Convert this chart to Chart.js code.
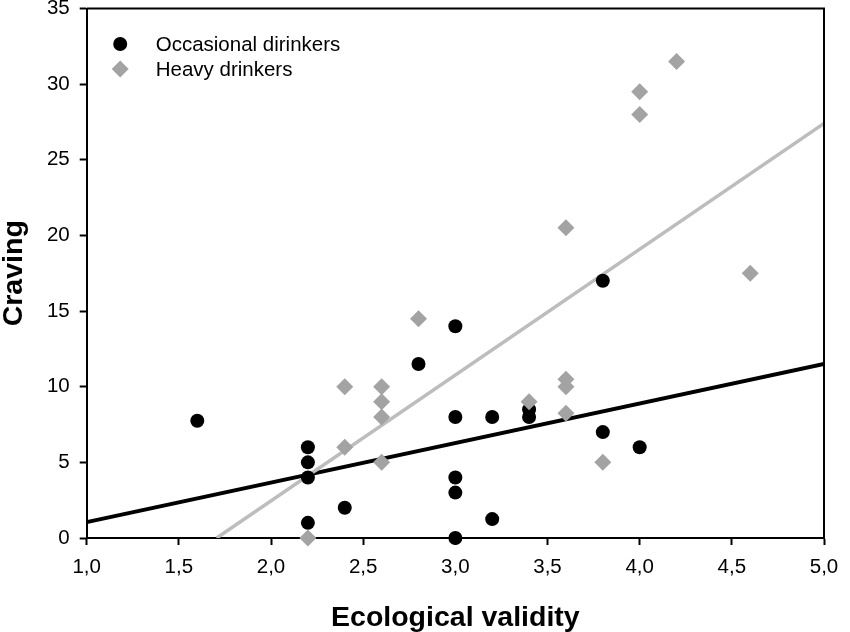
<!DOCTYPE html>
<html>
<head>
<meta charset="utf-8">
<script src="https://cdn.jsdelivr.net/npm/chart.js@4.4.1/dist/chart.umd.min.js"></script>
<style>
  html, body { margin: 0; padding: 0; background: #fff; }
  #wrap { width: 850px; height: 632px; }
</style>
</head>
<body>
<div id="wrap"><canvas id="cravingChart"></canvas></div>
<script>
// values
const occasionalX = [1.6, 2.2, 2.2, 2.2, 2.2, 2.4, 2.8, 3.0, 3.0, 3.0, 3.0, 3.0, 3.2, 3.2, 3.4, 3.4, 3.8, 3.8, 4.0];
const occasionalY = [7.75, 6, 5, 4, 1, 2, 11.5, 14, 8, 4, 3, 0, 8, 1.25, 8.5, 8, 17, 7, 6];
const heavyX = [2.2, 2.4, 2.4, 2.6, 2.6, 2.6, 2.6, 2.8, 3.4, 3.6, 3.6, 3.6, 3.6, 3.8, 4.0, 4.0, 4.2, 4.6];
const heavyY = [0, 10, 6, 10, 9, 8, 5, 14.5, 9, 20.5, 10.5, 10, 8.25, 5, 29.5, 28, 31.5, 17.5];

// fitted lines (end points)
const occasionalFitX = [1.0, 5.0];
const occasionalFitY = [1.05, 11.5];
const heavyFitX = [1.705, 5.0];
const heavyFitY = [0, 27.4];

const xTickLabels = ['1,0', '1,5', '2,0', '2,5', '3,0', '3,5', '4,0', '4,5', '5,0'];
const yTickLabels = ['0', '5', '10', '15', '20', '25', '30', '35'];

const toPoints = (xs, ys) => xs.map((x, i) => ({ x: x, y: ys[i] }));

const FONT = '"Liberation Sans", Arial, sans-serif';
const BLACK = '#000000';
const DIAMOND = '#a3a3a3';
const GREY_LINE = '#bdbdbd';

// legend drawn inside the plot, top left
const insideLegend = {
    id: 'insideLegend',
    afterDatasetsDraw(chart) {
        const ctx = chart.ctx;
        const area = chart.chartArea;
        ctx.save();
        ctx.font = '20.5px ' + FONT;
        ctx.textBaseline = 'middle';
        let row = 0;
        chart.data.datasets.forEach(ds => {
            if (!ds.inLegend) return;
            const cx = area.left + 33.5;
            const cy = area.top + 35.5 + row * 25;
            ctx.fillStyle = ds.backgroundColor;
            ctx.strokeStyle = ds.backgroundColor;
            Chart.helpers.drawPoint(ctx, {
                pointStyle: ds.pointStyle,
                radius: ds.pointRadius,
                borderWidth: 0
            }, cx, cy);
            ctx.fillStyle = BLACK;
            ctx.fillText(ds.label, area.left + 69, cy + 1);
            row++;
        });
        ctx.restore();
    }
};

// top and right sides of the frame
const plotFrame = {
    id: 'plotFrame',
    afterDraw(chart) {
        const ctx = chart.ctx;
        const a = chart.chartArea;
        ctx.save();
        ctx.strokeStyle = BLACK;
        ctx.lineWidth = 2;
        ctx.beginPath();
        ctx.moveTo(a.left, a.top);
        ctx.lineTo(a.right, a.top);
        ctx.lineTo(a.right, a.bottom);
        ctx.stroke();
        ctx.restore();
    }
};

const ctxCraving = document.getElementById('cravingChart').getContext('2d');
new Chart(ctxCraving, {
    type: 'scatter',
    data: {
        datasets: [{
            label: 'Occasional dirinkers',
            data: toPoints(occasionalX, occasionalY),
            backgroundColor: BLACK,
            borderWidth: 0,
            pointStyle: 'circle',
            pointRadius: 7,
            clip: false,
            inLegend: true,
            order: 1
        }, {
            label: 'Heavy drinkers',
            data: toPoints(heavyX, heavyY),
            backgroundColor: DIAMOND,
            borderWidth: 0,
            pointStyle: 'rectRot',
            pointRadius: 8.5,
            clip: false,
            inLegend: true,
            order: 0
        }, {
            label: 'Occasional fit',
            data: toPoints(occasionalFitX, occasionalFitY),
            type: 'line',
            borderColor: BLACK,
            borderWidth: 4,
            pointRadius: 0,
            fill: false,
            order: 3
        }, {
            label: 'Heavy fit',
            data: toPoints(heavyFitX, heavyFitY),
            type: 'line',
            borderColor: GREY_LINE,
            borderWidth: 3.5,
            pointRadius: 0,
            fill: false,
            order: 2
        }]
    },
    plugins: [insideLegend, plotFrame],
    options: {
        responsive: true,
        maintainAspectRatio: false,
        animation: false,
        layout: { padding: { top: 8, right: 26, left: 0, bottom: 0 } },
        plugins: {
            legend: { display: false },
            tooltip: { enabled: false }
        },
        scales: {
            x: {
                type: 'linear',
                min: 1,
                max: 5,
                border: { display: true, color: BLACK, width: 2 },
                grid: { drawOnChartArea: false, drawTicks: true, tickLength: 7, tickWidth: 2, color: BLACK },
                ticks: {
                    stepSize: 0.5,
                    color: BLACK,
                    padding: 10,
                    font: { family: FONT, size: 20.5 },
                    callback: (v, i) => xTickLabels[i]
                },
                title: {
                    display: true,
                    text: 'Ecological validity',
                    color: BLACK,
                    padding: 0,
                    font: { family: FONT, size: 28.5, weight: 'bold', lineHeight: 1 }
                },
                afterFit(scale) {
                    scale.height = 94;
                    scale.paddingLeft = 0;
                    scale.paddingRight = 0;
                }
            },
            y: {
                type: 'linear',
                min: 0,
                max: 35,
                border: { display: true, color: BLACK, width: 2 },
                grid: { drawOnChartArea: false, drawTicks: true, tickLength: 7, tickWidth: 2, color: BLACK },
                ticks: {
                    stepSize: 5,
                    color: BLACK,
                    padding: 10,
                    font: { family: FONT, size: 20.5 },
                    callback: (v, i) => yTickLabels[i]
                },
                title: {
                    display: true,
                    text: 'Craving',
                    color: BLACK,
                    padding: 0,
                    font: { family: FONT, size: 28.5, weight: 'bold', lineHeight: 1 }
                },
                afterFit(scale) {
                    scale.width = 86.7;
                    scale.paddingTop = 0;
                    scale.paddingBottom = 0;
                }
            }
        }
    }
});
</script>
</body>
</html>
